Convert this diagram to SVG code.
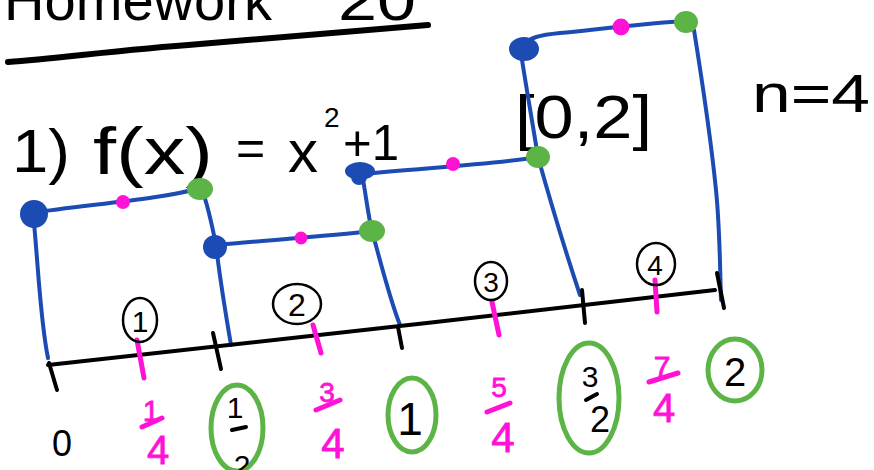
<svg xmlns="http://www.w3.org/2000/svg" width="874" height="470" viewBox="0 0 874 470">
<style>
.t{font-family:"Liberation Sans","DejaVu Sans",sans-serif;fill:#000}
.p{font-family:"Liberation Sans","DejaVu Sans",sans-serif;fill:#ff12d6;stroke:#ff12d6;stroke-width:0.8}
.b{fill:none;stroke:#1b4bb3;stroke-width:4;stroke-linecap:round;stroke-linejoin:round}
.k{fill:none;stroke:#000;stroke-width:4;stroke-linecap:round}
.pk{fill:none;stroke:#ff12d6;stroke-width:5;stroke-linecap:round}
.g{fill:none;stroke:#5db446;stroke-width:5}
.bd{fill:#1b4bb3}.gd{fill:#5db446}.md{fill:#ff12d6}
.c{fill:none;stroke:#000;stroke-width:2.5}
</style>
<rect width="874" height="470" fill="#fff"/>
<g id="title">
<text class="t" x="4" y="20" font-size="58" textLength="268" lengthAdjust="spacingAndGlyphs">Homework</text>
<text class="t" x="338" y="20" font-size="58" textLength="78" lengthAdjust="spacingAndGlyphs">20</text>
<path d="M8,62 C60,58 120,50 200,44 C280,38 360,30 428,25" fill="none" stroke="#000" stroke-width="6" stroke-linecap="round"/>
</g>
<g id="function">
<text class="t" x="12" y="172" font-size="62" textLength="58" lengthAdjust="spacingAndGlyphs">1)</text>
<text class="t" x="93" y="174" font-size="66" textLength="120" lengthAdjust="spacingAndGlyphs">f(x)</text>
<text class="t" x="236" y="165" font-size="50">=</text>
<text class="t" x="288" y="172" font-size="60">x</text>
<text class="t" x="324" y="127" font-size="28">2</text>
<text class="t" x="343" y="160" font-size="50" textLength="56" lengthAdjust="spacingAndGlyphs">+1</text>
</g>
<g id="interval">
<text class="t" x="515" y="138" font-size="62" textLength="137" lengthAdjust="spacingAndGlyphs">[0,2]</text>
</g>
<g id="n">
<text class="t" x="752" y="112" font-size="54" textLength="118" lengthAdjust="spacingAndGlyphs">n=4</text>
</g>
<g id="rectangles">
<path class="b" d="M33,213 C38,260 40,320 48,358"/>
<path class="b" d="M33,213 C80,205 160,200 200,188"/>
<path class="b" d="M202,190 C208,205 212,225 216,245 C220,280 225,310 231,345"/>
<path class="b" d="M216,245 C270,240 330,236 372,231" stroke-width="3"/>
<path class="b" d="M362,174 C366,195 368,215 372,231 C380,260 390,300 400,325"/>
<path class="b" d="M362,174 C420,168 490,165 538,157"/>
<path class="b" d="M520,47 C525,80 532,120 538,157 C550,200 565,250 580,295"/>
<path class="b" d="M520,47 C530,37 540,35 560,33 C600,29 650,23 686,21"/>
<path class="b" d="M694,30 C702,80 712,150 716,190 C720,230 720,270 721,300"/>
</g>
<g id="points">
<circle class="bd" cx="34" cy="214" r="14"/>
<circle class="md" cx="123" cy="202" r="7"/>
<ellipse class="gd" cx="200" cy="189" rx="13" ry="11"/>
<circle class="bd" cx="215" cy="247" r="12"/>
<circle class="md" cx="301" cy="238" r="6.5"/>
<ellipse class="gd" cx="372" cy="231" rx="13" ry="11"/>
<ellipse class="bd" cx="360" cy="171" rx="15" ry="9"/>
<circle class="bd" cx="359" cy="177" r="8"/>
<circle class="md" cx="453" cy="164" r="7"/>
<ellipse class="gd" cx="538" cy="157" rx="12" ry="11"/>
<ellipse class="bd" cx="524" cy="49" rx="15" ry="12"/>
<circle class="md" cx="621" cy="27" r="8.5"/>
<ellipse class="gd" cx="686" cy="22" rx="12" ry="11"/>
</g>
<g id="axis">
<path class="k" d="M48,365 C250,343 500,315 715,290" stroke-width="3.5"/>
<path class="k" d="M49,363 L57,390"/>
<path class="k" d="M213,333 L221,369"/>
<path class="k" d="M398,327 L402,348"/>
<path class="k" d="M582,290 L585,323"/>
<path class="k" d="M717,273 L724,308"/>
<path class="pk" d="M137,340 L144,378"/>
<path class="pk" d="M313,325 L321,353"/>
<path class="pk" d="M492,302 L499,335"/>
<path class="pk" d="M655,280 L657,312"/>
</g>
<g id="labels">
<ellipse class="c" cx="140" cy="320" rx="17" ry="22"/>
<text class="t" x="140" y="332" font-size="30" text-anchor="middle">1</text>
<ellipse class="c" cx="297" cy="304" rx="24" ry="20"/>
<text class="t" x="297" y="316" font-size="32" text-anchor="middle">2</text>
<ellipse class="c" cx="491" cy="281" rx="16" ry="19"/>
<text class="t" x="491" y="292" font-size="28" text-anchor="middle">3</text>
<ellipse class="c" cx="656" cy="264" rx="19" ry="21"/>
<text class="t" x="655" y="275" font-size="28" text-anchor="middle">4</text>
</g>
<g id="values">
<text class="t" x="62" y="456" font-size="36" text-anchor="middle">0</text>
<text class="p" x="151" y="421" font-size="30" text-anchor="middle">1</text>
<path class="pk" d="M142,427 L162,418" stroke-width="4"/>
<text class="p" x="158" y="464" font-size="40" text-anchor="middle">4</text>
<ellipse class="g" cx="237" cy="428" rx="26" ry="43"/>
<text class="t" x="235" y="418" font-size="30" text-anchor="middle">1</text>
<path class="k" d="M232,430 L246,427" stroke-width="3"/>
<text class="t" x="242" y="476" font-size="30" text-anchor="middle">2</text>
<text class="p" x="327" y="402" font-size="28" text-anchor="middle">3</text>
<path class="pk" d="M316,410 L340,400" stroke-width="4"/>
<text class="p" x="333" y="458" font-size="42" text-anchor="middle">4</text>
<ellipse class="g" cx="412" cy="415" rx="24" ry="37"/>
<text class="t" x="410" y="435" font-size="46" text-anchor="middle">1</text>
<text class="p" x="499" y="397" font-size="28" text-anchor="middle">5</text>
<path class="pk" d="M487,412 L510,403" stroke-width="4"/>
<text class="p" x="503" y="452" font-size="42" text-anchor="middle">4</text>
<ellipse class="g" cx="589" cy="398" rx="30" ry="55"/>
<text class="t" x="590" y="387" font-size="30" text-anchor="middle">3</text>
<path class="k" d="M586,400 L597,394" stroke-width="3"/>
<text class="t" x="600" y="432" font-size="36" text-anchor="middle">2</text>
<text class="p" x="662" y="377" font-size="30" text-anchor="middle">7</text>
<path class="pk" d="M649,382 L678,373" stroke-width="4"/>
<text class="p" x="664" y="422" font-size="40" text-anchor="middle">4</text>
<ellipse class="g" cx="735" cy="370" rx="27" ry="31"/>
<text class="t" x="735" y="386" font-size="40" text-anchor="middle">2</text>
</g>
</svg>
